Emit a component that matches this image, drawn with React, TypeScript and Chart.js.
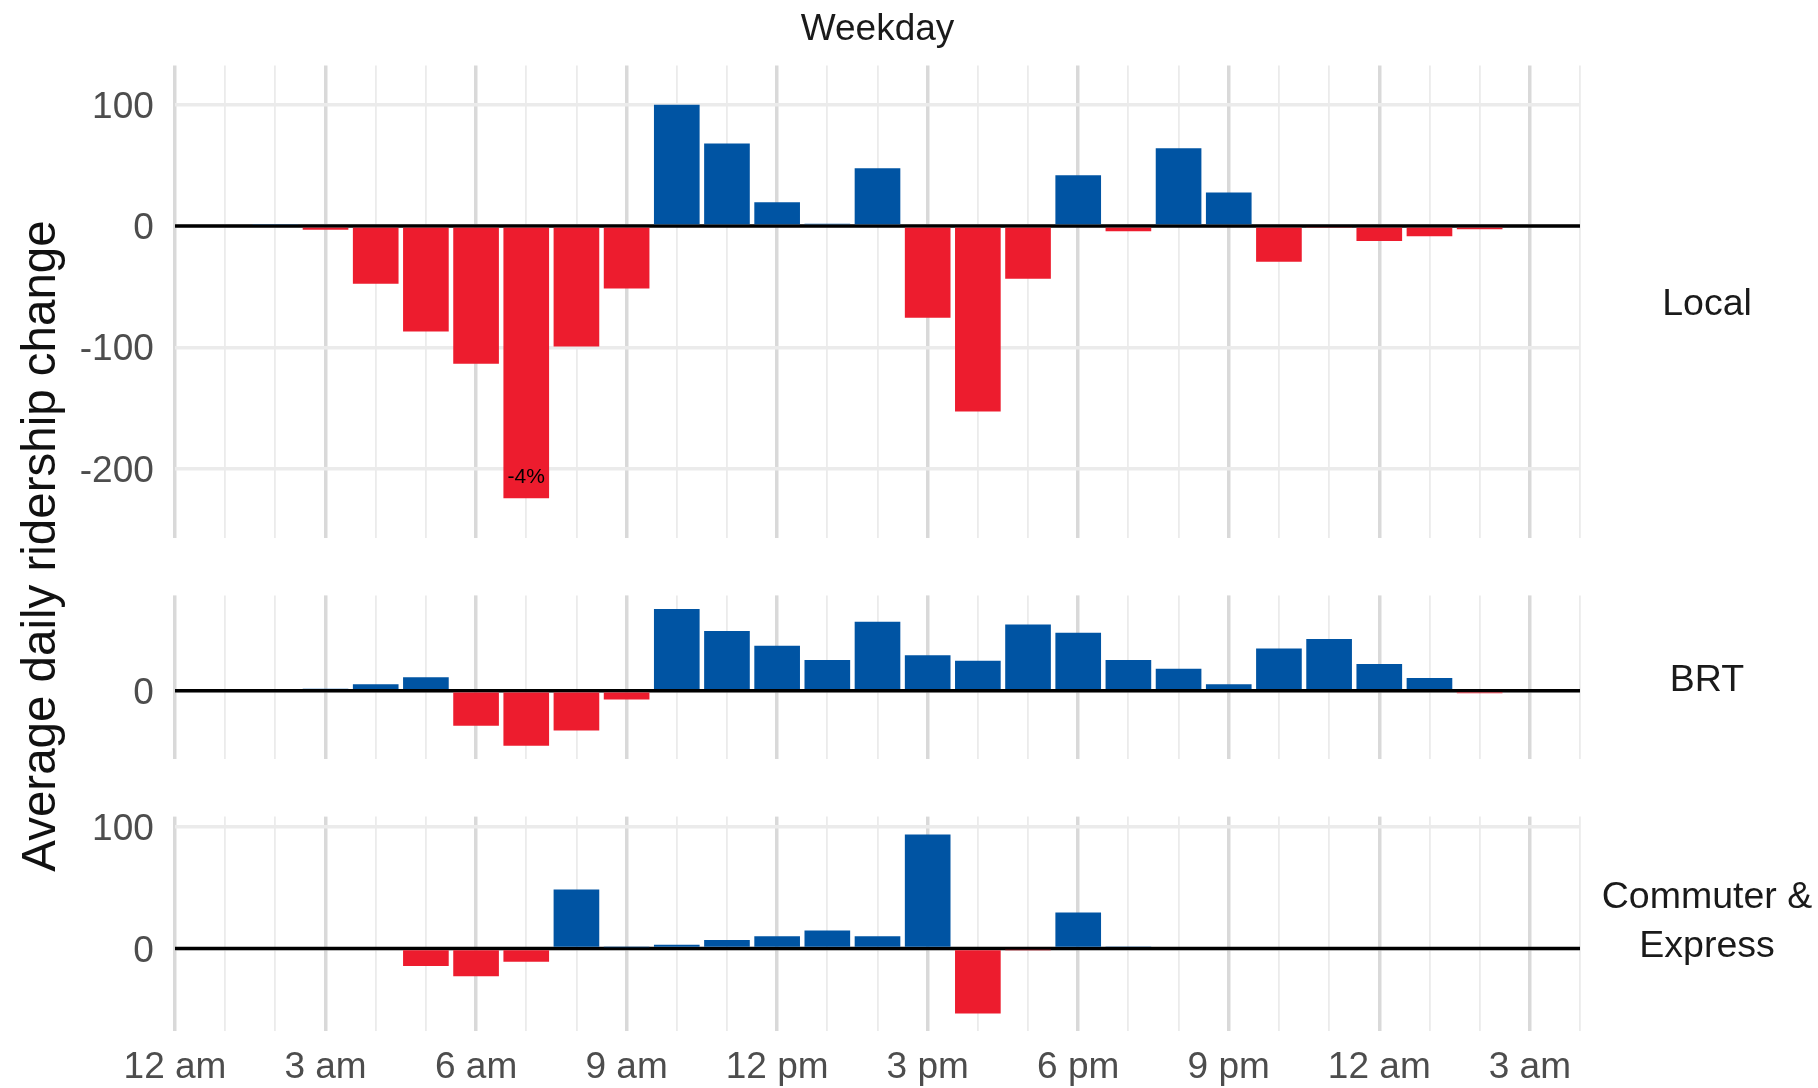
import React, { useEffect, useRef } from 'react';
import { Chart, registerables } from 'chart.js';

Chart.register(...registerables);

// ---------- data ----------
const LOCAL_HOURS = [2, 3, 4, 5, 6, 7, 8, 9, 10, 11, 12, 13, 14, 15, 16, 17, 18, 19, 20, 21, 22, 23, 24, 25, 26];
const LOCAL_VALUES = [1.3, -3, -47.6, -87, -113.5, -224.4, -99.4, -51.5, 100, 68, 19.7, 1.8, 47.6, -75.6, -153, -43.5, 41.8, -4.4, 64.1, 27.6, -29.4, -1.2, -12.4, -8.5, -2.6];

const BRT_HOURS = [3, 4, 5, 6, 7, 8, 9, 10, 11, 12, 13, 14, 15, 16, 17, 18, 19, 20, 21, 22, 23, 24, 25, 26];
const BRT_VALUES = [1.6, 5.3, 11, -28.5, -44.8, -32.4, -7.2, 66.7, 48.7, 36.8, 25.2, 56.4, 29, 24.4, 54, 47.3, 25.2, 18, 5.3, 34.6, 42.3, 21.9, 10.5, -2];

const COMMUTER_HOURS = [5, 6, 7, 8, 9, 10, 11, 12, 13, 14, 15, 16, 17, 18, 19];
const COMMUTER_VALUES = [-14.4, -23, -11, 48.6, 1, 3, 7, 10, 14.7, 10, 93.9, -53.6, -1, 29.7, 1.7];

const PANEL_NAMES = [['Local'], ['BRT'], ['Commuter &', 'Express']];
const X_TICK_VALUES = [0, 1, 2, 3, 4, 5, 6, 7, 8, 9, 10, 11, 12, 13, 14, 15, 16, 17, 18, 19, 20, 21, 22, 23, 24, 25, 26, 27, 28];
const X_TICK_LABELS = ['12 am', '3 am', '6 am', '9 am', '12 pm', '3 pm', '6 pm', '9 pm', '12 am', '3 am'];
const Y_TICK_VALUES = [-200, -100, 0, 100];

const FACET_TITLE = 'Weekday';
const Y_TITLE = 'Average daily ridership change';
const ANNOTATION_HOUR = 7;
const ANNOTATION_TEXT = '-4%';

// ---------- style ----------
const W = 1818;
const H = 1088;
const FONT = "'Liberation Sans', Arial, Helvetica, sans-serif";
const BLUE = '#0054A3';
const RED = '#ED1C2E';
const MAJOR_GRID = '#d9d9d9';
const MINOR_GRID = '#ebebeb';
const PLOT_LEFT = 175;
const PLOT_RIGHT = 1580;
const TEXT_DY = 3;
const PANELS = [
  { top: 65.4, bottom: 537.5 },
  { top: 595.4, bottom: 759.3 },
  { top: 816.6, bottom: 1031.4 },
];

const zeroLinePlugin = {
  id: 'zeroLine',
  beforeDatasetsDraw(chart: any) {
    const { ctx, chartArea, scales } = chart;
    const y = scales.y.getPixelForValue(0);
    ctx.save();
    ctx.strokeStyle = '#000000';
    ctx.lineWidth = 3.5;
    ctx.beginPath();
    ctx.moveTo(chartArea.left, y);
    ctx.lineTo(chartArea.right, y);
    ctx.stroke();
    ctx.restore();
  },
};

const textPlugin = {
  id: 'panelText',
  afterDraw(chart: any, _args: any, opts: any) {
    const { ctx, chartArea, scales } = chart;
    ctx.save();
    // strip label
    const lines: string[] = opts.strip || [];
    const cy = (chartArea.top + chartArea.bottom) / 2 + TEXT_DY;
    ctx.fillStyle = '#1a1a1a';
    ctx.font = `37.5px ${FONT}`;
    ctx.textAlign = 'center';
    ctx.textBaseline = 'middle';
    const lh = 48.3;
    const shift = lines.length > 1 ? -4.8 : 0;
    lines.forEach((l, i) => {
      ctx.fillText(l, 1707, cy + shift + (i - (lines.length - 1) / 2) * lh);
    });
    if (opts.first) {
      ctx.font = `37px ${FONT}`;
      ctx.fillText(FACET_TITLE, (chartArea.left + chartArea.right) / 2, 27 + TEXT_DY);
      // y title
      ctx.save();
      ctx.translate(54.5, 546);
      ctx.rotate(-Math.PI / 2);
      ctx.font = `47.5px ${FONT}`;
      ctx.fillStyle = '#111111';
      ctx.textBaseline = 'alphabetic';
      ctx.fillText(Y_TITLE, 0, 0);
      ctx.restore();
      // annotation
      const idx = LOCAL_HOURS.indexOf(ANNOTATION_HOUR);
      const v = LOCAL_VALUES[idx];
      ctx.font = `21px ${FONT}`;
      ctx.fillStyle = '#000000';
      ctx.textBaseline = 'middle';
      ctx.fillText(
        ANNOTATION_TEXT,
        scales.x.getPixelForValue(ANNOTATION_HOUR),
        scales.y.getPixelForValue(v) - 21
      );
    }
    ctx.restore();
  },
};

function makeChart(canvas: HTMLCanvasElement, panel: number, hours: number[], values: number[]) {
  const isBottom = panel === PANELS.length - 1;
  const { top, bottom } = PANELS[panel];
  const dmax = Math.max(0, ...values);
  const dmin = Math.min(0, ...values);
  const pad = (dmax - dmin) * 0.1;
  const yMin = dmin - pad;
  const yMax = dmax + pad;
  const xAxisHeight = isBottom ? H - bottom : 0;
  return new Chart(canvas, {
    type: 'bar',
    data: {
      datasets: [
        {
          data: hours.map((h, i) => ({ x: h, y: values[i] })),
          backgroundColor: values.map((v) => (v >= 0 ? BLUE : RED)),
          borderWidth: 0,
          barPercentage: 0.91,
          categoryPercentage: 1,
        },
      ],
    },
    options: {
      responsive: false,
      animation: false,
      events: [],
      layout: {
        padding: {
          left: 0,
          right: W - PLOT_RIGHT,
          top: top,
          bottom: isBottom ? 0 : H - bottom,
        },
      },
      plugins: {
        legend: { display: false },
        tooltip: { enabled: false },
        title: { display: false },
        panelText: { strip: PANEL_NAMES[panel], first: panel === 0 },
      } as any,
      scales: {
        x: {
          type: 'linear',
          min: 0,
          max: 28,
          offset: false,
          afterBuildTicks: (s: any) => {
            s.ticks = X_TICK_VALUES.map((v) => ({ value: v }));
          },
          afterFit: (s: any) => {
            s.height = xAxisHeight;
          },
          grid: {
            offset: false,
            drawTicks: false,
            color: (c: any) => (c.tick && c.tick.value % 3 === 0 ? MAJOR_GRID : MINOR_GRID),
            lineWidth: (c: any) => (c.tick && c.tick.value % 3 === 0 ? 3.5 : 1.8),
          },
          border: { display: false },
          ticks: {
            display: isBottom,
            autoSkip: false,
            maxRotation: 0,
            minRotation: 0,
            padding: 14,
            color: '#4d4d4d',
            font: { family: FONT, size: 37 },
            callback: (v: any) => (Number(v) % 3 === 0 ? X_TICK_LABELS[Number(v) / 3] : ''),
          },
        },
        y: {
          type: 'linear',
          min: yMin,
          max: yMax,
          afterBuildTicks: (s: any) => {
            s.ticks = Y_TICK_VALUES.filter((v) => v >= yMin && v <= yMax).map((v) => ({ value: v }));
          },
          afterFit: (s: any) => {
            s.width = PLOT_LEFT;
          },
          grid: {
            drawTicks: false,
            color: MINOR_GRID,
            lineWidth: 3.5,
          },
          border: { display: false },
          ticks: {
            padding: 21.2,
            labelOffset: TEXT_DY,
            color: '#4d4d4d',
            font: { family: FONT, size: 37 },
            callback: (v: any) => String(v),
          },
        },
      },
    } as any,
    plugins: [zeroLinePlugin, textPlugin],
  });
}

export default function App() {
  const r0 = useRef<HTMLCanvasElement>(null);
  const r1 = useRef<HTMLCanvasElement>(null);
  const r2 = useRef<HTMLCanvasElement>(null);

  useEffect(() => {
    const charts = [
      makeChart(r0.current!, 0, LOCAL_HOURS, LOCAL_VALUES),
      makeChart(r1.current!, 1, BRT_HOURS, BRT_VALUES),
      makeChart(r2.current!, 2, COMMUTER_HOURS, COMMUTER_VALUES),
    ];
    return () => charts.forEach((c) => c.destroy());
  }, []);

  const cstyle: React.CSSProperties = { position: 'absolute', left: 0, top: 0, width: W, height: H };
  return (
    <div style={{ position: 'fixed', left: 0, top: 0, width: W, height: H, background: '#ffffff' }}>
      <canvas ref={r0} width={W} height={H} style={cstyle} />
      <canvas ref={r1} width={W} height={H} style={cstyle} />
      <canvas ref={r2} width={W} height={H} style={cstyle} />
    </div>
  );
}
